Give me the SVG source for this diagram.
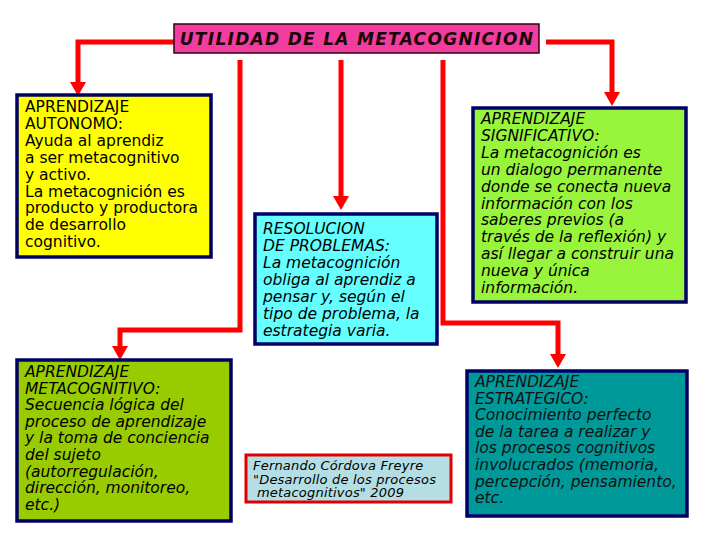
<svg xmlns="http://www.w3.org/2000/svg" width="720" height="540" viewBox="0 0 720 540">
<style>
.box{stroke:#000066;stroke-width:3.5}
.t{font-family:"DejaVu Sans",Verdana,sans-serif;font-size:15.5px;fill:#000}
.i{font-style:italic}
.con{fill:none;stroke:#FF0000;stroke-width:5;stroke-linejoin:miter}
</style>
<defs>
<marker id="ah" viewBox="0 0 14 16" markerWidth="14" markerHeight="16" refX="0" refY="8" orient="auto" markerUnits="userSpaceOnUse">
<path d="M0,0 L14,8 L0,16 z" fill="#FF0000"/>
</marker>
</defs>
<rect width="720" height="540" fill="#fff"/>
<g id="connectors">
<path class="con" d="M174,42 H78 V82" marker-end="url(#ah)"/>
<path class="con" d="M546,42 H612 V92" marker-end="url(#ah)"/>
<path class="con" d="M240,60 V330 H120 V346" marker-end="url(#ah)"/>
<path class="con" d="M341,60 V196" marker-end="url(#ah)"/>
<path class="con" d="M443,60 V323 H558 V354" marker-end="url(#ah)"/>
</g>
<g id="title">
<rect x="174" y="24" width="365" height="29" fill="#F23D9E" stroke="#330011" stroke-width="1.5"/>
<text x="357" y="45" text-anchor="middle" class="t i" style="font-weight:bold;font-size:17px;letter-spacing:1.3px;fill:#1a0508">UTILIDAD DE LA METACOGNICION</text>
</g>
<g id="autonomo">
<rect class="box" x="17" y="95" width="194" height="162" fill="#FFFF00"/>
<text class="t" x="25" y="112">
<tspan x="25" dy="0">APRENDIZAJE</tspan>
<tspan x="25" dy="16.9">AUTONOMO:</tspan>
<tspan x="25" dy="16.9">Ayuda al aprendiz</tspan>
<tspan x="25" dy="16.9">a ser metacognitivo</tspan>
<tspan x="25" dy="16.9">y activo.</tspan>
<tspan x="25" dy="16.9">La metacognición es</tspan>
<tspan x="25" dy="16.9">producto y productora</tspan>
<tspan x="25" dy="16.9">de desarrollo</tspan>
<tspan x="25" dy="16.9">cognitivo.</tspan>
</text>
</g>
<g id="resolucion">
<rect class="box" x="255" y="214" width="182" height="130" fill="#66FFFF"/>
<text class="t i" x="263" y="234">
<tspan x="263" dy="0">RESOLUCION</tspan>
<tspan x="263" dy="17">DE PROBLEMAS:</tspan>
<tspan x="263" dy="17">La metacognición</tspan>
<tspan x="263" dy="17">obliga al aprendiz a</tspan>
<tspan x="263" dy="17">pensar y, según el</tspan>
<tspan x="263" dy="17">tipo de problema, la</tspan>
<tspan x="263" dy="17">estrategia varia.</tspan>
</text>
</g>
<g id="significativo">
<rect class="box" x="473" y="108" width="213" height="194" fill="#99F53C"/>
<text class="t i" x="481" y="124">
<tspan x="481" dy="0">APRENDIZAJE</tspan>
<tspan x="481" dy="16.9">SIGNIFICATIVO:</tspan>
<tspan x="481" dy="16.9">La metacognición es</tspan>
<tspan x="481" dy="16.9">un dialogo permanente</tspan>
<tspan x="481" dy="16.9">donde se conecta nueva</tspan>
<tspan x="481" dy="16.9">información con los</tspan>
<tspan x="481" dy="16.9">saberes previos (a</tspan>
<tspan x="481" dy="16.9">través de la reflexión) y</tspan>
<tspan x="481" dy="16.9">así llegar a construir una</tspan>
<tspan x="481" dy="16.9">nueva y única</tspan>
<tspan x="481" dy="16.9">información.</tspan>
</text>
</g>
<g id="metacognitivo">
<rect class="box" x="17" y="360" width="214" height="161" fill="#99CC00"/>
<text class="t i" x="25" y="377">
<tspan x="25" dy="0">APRENDIZAJE</tspan>
<tspan x="25" dy="16.6">METACOGNITIVO:</tspan>
<tspan x="25" dy="16.6">Secuencia lógica del</tspan>
<tspan x="25" dy="16.6">proceso de aprendizaje</tspan>
<tspan x="25" dy="16.6">y la toma de conciencia</tspan>
<tspan x="25" dy="16.6">del sujeto</tspan>
<tspan x="25" dy="16.6">(autorregulación,</tspan>
<tspan x="25" dy="16.6">dirección, monitoreo,</tspan>
<tspan x="25" dy="16.6">etc.)</tspan>
</text>
</g>
<g id="cita">
<rect x="246" y="455" width="205" height="47" fill="#B4DEE4" stroke="#E00000" stroke-width="3"/>
<text class="t i" style="font-size:13px;letter-spacing:0.2px" x="253" y="470">
<tspan x="253" dy="0">Fernando Córdova Freyre</tspan>
<tspan x="253" dy="13.5">"Desarrollo de los procesos</tspan>
<tspan x="257" dy="13.5">metacognitivos" 2009</tspan>
</text>
</g>
<g id="estrategico">
<rect class="box" x="467" y="371" width="220" height="145" fill="#009999"/>
<text class="t i" x="475" y="387" style="fill:#111">
<tspan x="475" dy="0">APRENDIZAJE</tspan>
<tspan x="475" dy="16.6">ESTRATEGICO:</tspan>
<tspan x="475" dy="16.6">Conocimiento perfecto</tspan>
<tspan x="475" dy="16.6">de la tarea a realizar y</tspan>
<tspan x="475" dy="16.6">los procesos cognitivos</tspan>
<tspan x="475" dy="16.6">involucrados (memoria,</tspan>
<tspan x="475" dy="16.6">percepción, pensamiento,</tspan>
<tspan x="475" dy="16.6">etc.</tspan>
</text>
</g>
</svg>
